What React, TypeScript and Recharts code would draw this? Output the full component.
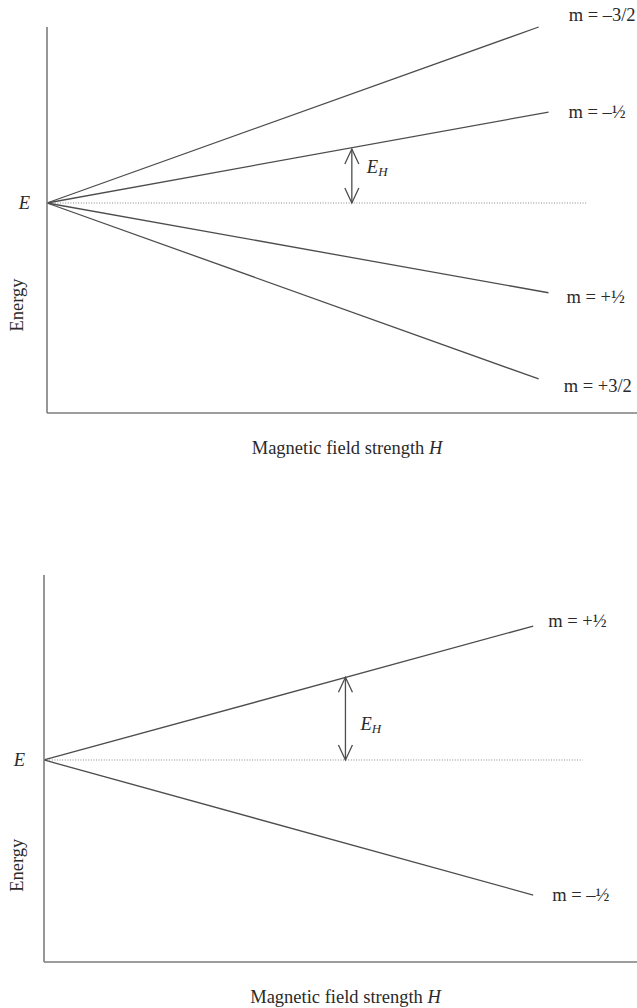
import { LineChart, Line, XAxis, YAxis } from "recharts";

// Field axis runs 0..12 in both diagrams
const FIELD_RANGE = [0, 12];

// Upper diagram: quartet (m = ±3/2, ±½)
const quartetLevels = ["m = –3/2", "m = –½", "m = +½", "m = +3/2"];
const quartetFieldEnd = [10.0, 10.2, 10.2, 10.0];
const quartetEnergyEnd = [3.0, 1.55, -1.53, -3.0];
const quartetEnergyRange = [-3.58, 3.0];
const quartetBaselineEnd = 11.0;
const quartetGap = { field: 6.2, energy: 0.92 };

// Lower diagram: doublet (m = ±½)
const doubletLevels = ["m = +½", "m = –½"];
const doubletFieldEnd = [9.9, 9.9];
const doubletEnergyEnd = [2.28, -2.3];
const doubletEnergyRange = [-3.44, 3.15];
const doubletBaselineEnd = 10.9;
const doubletGap = { field: 6.1, energy: 1.41 };

const FONT = "'Liberation Serif', 'Times New Roman', serif";
const INK = "#2a2a2a";
const LEVEL = "#4d4d4d";
const AXIS = "#7d7d7d";
const FS = 18.5;

type Pt = { H: number; E: number };

interface PanelProps {
  levels: string[];
  fieldEnd: number[];
  energyEnd: number[];
  energyRange: number[];
  baselineEnd: number;
  gap: { field: number; energy: number };
  top: number;
  plotTop: number;
  plotLeft: number;
  plotBottom: number; // space under plot area inside the chart
  eMargin: number;
  energyLabelAt: number;
  labelOffsets: [number, number][];
}

const W = 637;
const H = 504;

function levelLabel(text: string, dx: number, dy: number) {
  return (p: any) => {
    if (p.index !== 1) return null;
    return (
      <text
        x={p.x + dx}
        y={p.y + dy}
        dominantBaseline="central"
        fontFamily={FONT}
        fontSize={FS}
        fill={INK}
      >
        {text}
      </text>
    );
  };
}

// open chevron heads for the double arrow
function chevron(p: any) {
  const { cx, cy, index } = p;
  const dir = index === 0 ? 1 : -1;
  return (
    <path
      key={`head-${index}`}
      d={`M${cx - 7},${cy - dir * 15} L${cx},${cy} L${cx + 7},${cy - dir * 15}`}
      fill="none"
      stroke={LEVEL}
      strokeWidth={1.3}
    />
  );
}

function gapLabel(p: any) {
  if (p.index !== 0) return null;
  return (
    <text x={p.x + 15} y={p.y - 36} dominantBaseline="central" fontFamily={FONT} fill={INK} fontStyle="italic">
      <tspan fontSize={FS}>E</tspan>
      <tspan fontSize={13} dy={4}>H</tspan>
    </text>
  );
}

function Panel(props: PanelProps) {
  const {
    levels, fieldEnd, energyEnd, energyRange, baselineEnd, gap,
    top, plotTop, plotLeft, plotBottom, eMargin, energyLabelAt, labelOffsets,
  } = props;

  const series: Pt[][] = levels.map((_, i) => [
    { H: 0, E: 0 },
    { H: fieldEnd[i], E: energyEnd[i] },
  ]);
  const baseline: Pt[] = [{ H: 0, E: 0 }, { H: baselineEnd, E: 0 }];
  const arrow: Pt[] = [{ H: gap.field, E: 0 }, { H: gap.field, E: gap.energy }];

  return (
    <div style={{ position: "absolute", left: 0, top }}>
      <LineChart
        width={W}
        height={H}
        margin={{ top: plotTop, right: 0, left: 0, bottom: H - plotBottom - 40 }}
      >
        <XAxis
          type="number"
          dataKey="H"
          domain={FIELD_RANGE}
          height={40}
          tick={false}
          tickLine={false}
          axisLine={{ stroke: AXIS, strokeWidth: 1.6 }}
          label={{
            content: (lp: any) => {
              const vb = lp.viewBox;
              return (
                <text
                  x={vb.x + vb.width / 2 + 5}
                  y={vb.y + 35}
                  textAnchor="middle"
                  dominantBaseline="central"
                  fontFamily={FONT}
                  fontSize={FS}
                  fill={INK}
                >
                  Magnetic field strength <tspan fontStyle="italic">H</tspan>
                </text>
              );
            },
          }}
        />
        <YAxis
          type="number"
          dataKey="E"
          domain={energyRange}
          width={plotLeft}
          ticks={[0]}
          tickLine={false}
          tickSize={0}
          tickMargin={eMargin}
          axisLine={{ stroke: AXIS, strokeWidth: 1.6 }}
          tick={(tp: any) => (
            <text
              x={tp.x}
              y={tp.y}
              textAnchor="end"
              dominantBaseline="central"
              fontFamily={FONT}
              fontSize={FS}
              fontStyle="italic"
              fill={INK}
            >
              E
            </text>
          )}
          label={{
            content: (lp: any) => {
              const vb = lp.viewBox;
              const cx = 17;
              const cy = vb.y + vb.height * energyLabelAt;
              return (
                <text
                  x={cx}
                  y={cy}
                  textAnchor="middle"
                  dominantBaseline="central"
                  transform={`rotate(-90 ${cx} ${cy})`}
                  fontFamily={FONT}
                  fontSize={FS}
                  fill={INK}
                >
                  Energy
                </text>
              );
            },
          }}
        />
        <Line
          data={baseline}
          dataKey="E"
          stroke="#8a8a8a"
          strokeWidth={1}
          strokeDasharray="1 1.6"
          dot={false}
          activeDot={false}
          isAnimationActive={false}
        />
        {series.map((d, i) => (
          <Line
            key={levels[i]}
            data={d}
            dataKey="E"
            stroke={LEVEL}
            strokeWidth={1.3}
            dot={false}
            activeDot={false}
            label={levelLabel(levels[i], labelOffsets[i][0], labelOffsets[i][1])}
            isAnimationActive={false}
          />
        ))}
        <Line
          data={arrow}
          dataKey="E"
          stroke={LEVEL}
          strokeWidth={1.3}
          dot={chevron}
          activeDot={false}
          label={gapLabel}
          isAnimationActive={false}
        />
      </LineChart>
    </div>
  );
}

export default function App() {
  return (
    <div
      style={{
        position: "absolute",
        left: 0,
        top: 0,
        width: W,
        height: 1008,
        background: "#fff",
        overflow: "hidden",
      }}
    >
      <Panel
        levels={quartetLevels}
        fieldEnd={quartetFieldEnd}
        energyEnd={quartetEnergyEnd}
        energyRange={quartetEnergyRange}
        baselineEnd={quartetBaselineEnd}
        gap={quartetGap}
        top={0}
        plotTop={27}
        plotLeft={47}
        plotBottom={413}
        eMargin={17}
        energyLabelAt={0.72}
        labelOffsets={[[30, -12], [20, 0], [18, 4], [25, 7]]}
      />
      <Panel
        levels={doubletLevels}
        fieldEnd={doubletFieldEnd}
        energyEnd={doubletEnergyEnd}
        energyRange={doubletEnergyRange}
        baselineEnd={doubletBaselineEnd}
        gap={doubletGap}
        top={504}
        plotTop={71}
        plotLeft={44}
        plotBottom={458}
        eMargin={19}
        energyLabelAt={0.75}
        labelOffsets={[[15, -5], [19, 0]]}
      />
    </div>
  );
}
